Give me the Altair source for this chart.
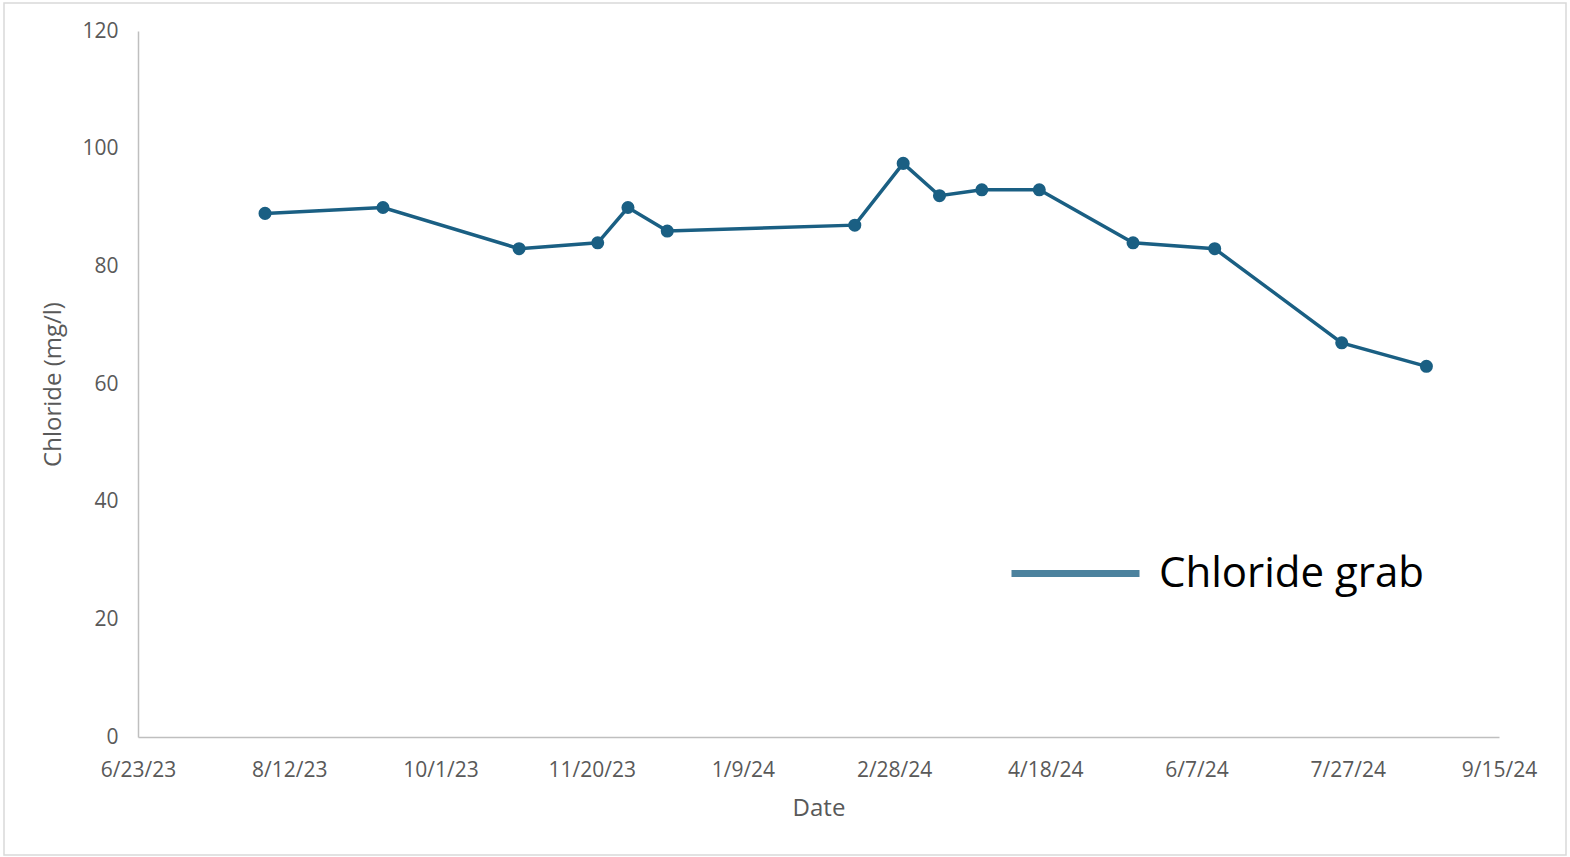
import altair as alt
import pandas as pd

# ---- data ----
dates = ["2023-08-04", "2023-09-12", "2023-10-27", "2023-11-22", "2023-12-02",
         "2023-12-15", "2024-02-15", "2024-03-02", "2024-03-14", "2024-03-28",
         "2024-04-16", "2024-05-17", "2024-06-13", "2024-07-25", "2024-08-22"]
chloride = [89, 90, 83, 84, 90, 86, 87, 97.5, 92, 93, 93, 84, 83, 67, 63]
series_name = "Chloride grab"

x_tick_dates = ["2023-06-23", "2023-08-12", "2023-10-01", "2023-11-20", "2024-01-09",
                "2024-02-28", "2024-04-18", "2024-06-07", "2024-07-27", "2024-09-15"]
y_ticks = [0, 20, 40, 60, 80, 100, 120]


def ms(d):
    return int(pd.Timestamp(d, tz="UTC").value // 10**6)


x_tick_ms = [ms(d) for d in x_tick_dates]

df = pd.DataFrame({"date": dates, "chloride": chloride, "series": [series_name] * len(dates)})

LINE = "#1A5F83"
W, H = 1361, 706

x_enc = alt.X("date:T", title="Date",
              scale=alt.Scale(type="utc", domain=[x_tick_ms[0], x_tick_ms[-1]], nice=False),
              axis=alt.Axis(values=x_tick_ms,
                            labelExpr="utcFormat(datum.value, '%-m/%-d/%y')",
                            labelFlush=False, labelOverlap=False, labelPadding=22,
                            titlePadding=16))
y_enc = alt.Y("chloride:Q", title="Chloride (mg/l)",
              scale=alt.Scale(domain=[0, 120], nice=False, zero=True),
              axis=alt.Axis(values=y_ticks, labelPadding=20, titlePadding=16))

line = alt.Chart(df).mark_line(strokeWidth=3.5).encode(
    x=x_enc, y=y_enc,
    color=alt.Color("series:N",
                    scale=alt.Scale(domain=[series_name], range=[LINE]),
                    legend=alt.Legend(title=None, orient="none", legendX=870, legendY=475,
                                      symbolType="stroke", symbolSize=16384,
                                      symbolStrokeWidth=7, symbolOpacity=0.78,
                                      labelFont="Open Sans", labelFontSize=42,
                                      labelColor="#000000", labelOffset=16,
                                      padding=0, labelLimit=600))
)

points = alt.Chart(df).mark_point(filled=True, size=170, opacity=1, color=LINE).encode(
    x=x_enc, y=y_enc
)

border = alt.Chart(alt.Data(values=[{"a": 1}])).mark_rect(
    fillOpacity=0, stroke="#D9D9D9", strokeWidth=1.5
).encode(
    x=alt.value(-134), x2=alt.value(1428), y=alt.value(-28), y2=alt.value(824)
)

chart = alt.layer(border, line, points).properties(
    width=W, height=H,
    autosize=alt.AutoSizeParams(type="none"),
    padding={"left": 138, "top": 31, "right": 71, "bottom": 120},
    background="white",
).configure_view(stroke=None).configure_axis(
    grid=False, ticks=False, domainColor="#BFBFBF", domainWidth=1.5,
    labelColor="#595959", labelFont="Open Sans", labelFontSize=21,
    titleColor="#595959", titleFont="Open Sans", titleFontSize=24, titleFontWeight="normal",
)

chart.save("out.html", embed_options={"renderer": "svg", "actions": False})
